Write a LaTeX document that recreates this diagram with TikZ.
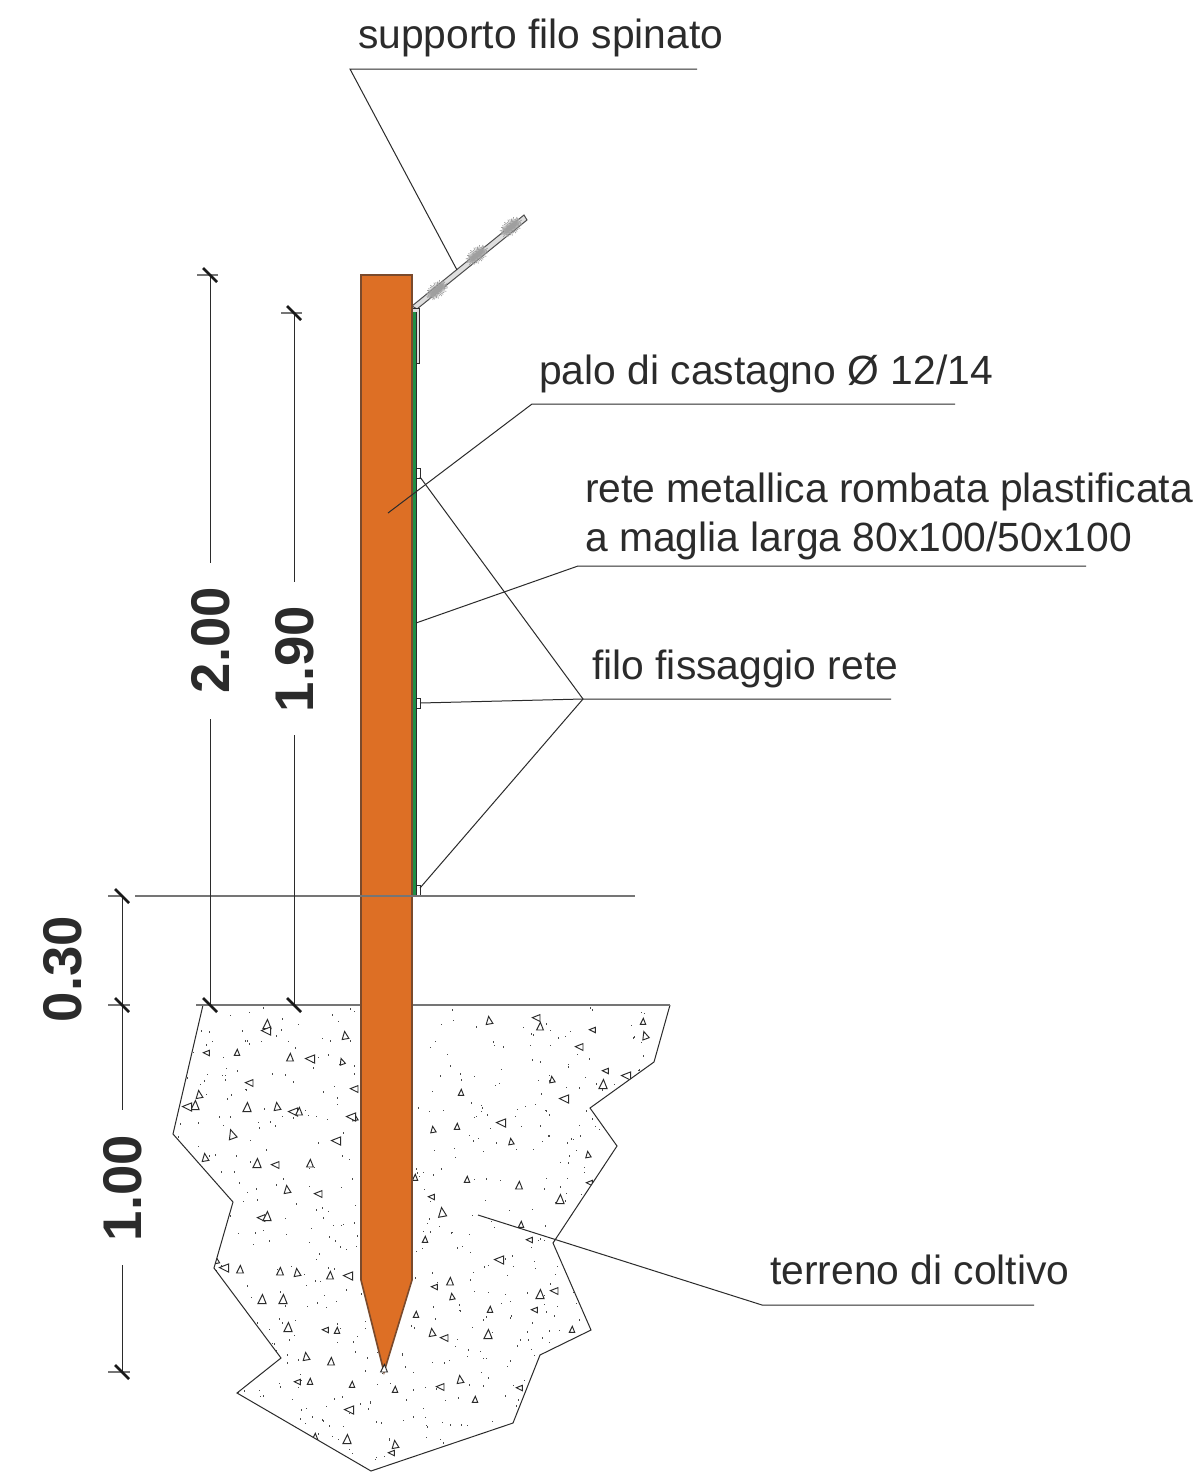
\documentclass[tikz,border=0pt]{standalone}
\usepackage{fontspec}
\setmainfont{Liberation Sans}
\definecolor{polecol}{HTML}{DD6F25}
\definecolor{poleline}{HTML}{7A4A2C}
\definecolor{netcol}{HTML}{1F8F45}
\definecolor{inkcol}{HTML}{2B2B2B}
\definecolor{platecol}{HTML}{DEDEDE}
\tikzset{
  leader/.style={draw=inkcol,line width=1pt},
  gline/.style={draw=inkcol!65,line width=1.3pt},
  tickmark/.style={draw=black!90,line width=2.8pt},
  label/.style={anchor=base west,inner sep=0pt,text=inkcol,font=\fontsize{40.8}{46}\selectfont},
  dimtext/.style={rotate=90,inner sep=0pt,text=inkcol,font=\fontsize{54.5}{60}\selectfont\bfseries},
  pebble/.style={draw=inkcol,line width=0.95pt,fill=white},
  barb/.style={draw=gray!75,line width=0.7pt}
}
\newcommand{\pebbleat}[3]{\pgfmathsetmacro{\sc}{0.8+0.2*mod(#1+#2,3)}\draw[pebble,shift={(#1,#2)},rotate=#3,scale=\sc] (-3.4,3) -- (3.4,3) -- (0.4,-4.6) -- cycle;}
\newcommand{\tickat}[2]{\draw[tickmark] (#1-7,#2-7) -- (#1+7,#2+7);}
\newcommand{\barbat}[2]{\begin{scope}[shift={(#1,#2)},rotate=39]
  \fill[gray!55] (-8,-2.5) rectangle (8,2.5);
  \foreach \a in {0,10,...,350}{\pgfmathsetmacro{\rr}{0.75+0.25*abs(sin(\a*7.3))}\draw[barb] (0,0) -- ({\rr*13*cos(\a)},{\rr*8*sin(\a)});}
\end{scope}}
\begin{document}
\begin{tikzpicture}[x=1pt,y=-1pt]
\useasboundingbox[fill=white] (0,0) rectangle (1202,1475);

% soil
\coordinate (s1) at (203,1005); \coordinate (s2) at (173,1134); \coordinate (s3) at (233,1202);
\coordinate (s4) at (214,1268); \coordinate (s5) at (281,1358); \coordinate (s6) at (237,1393);
\coordinate (s7) at (371,1471); \coordinate (s8) at (513,1423); \coordinate (s9) at (540,1355);
\coordinate (s10) at (591,1330); \coordinate (s11) at (553,1243); \coordinate (s12) at (617,1146);
\coordinate (s13) at (590,1108); \coordinate (s14) at (654,1062); \coordinate (s15) at (670,1005);
\begin{scope}
\clip (s1)--(s2)--(s3)--(s4)--(s5)--(s6)--(s7)--(s8)--(s9)--(s10)--(s11)--(s12)--(s13)--(s14)--(s15)--cycle;
\pgfmathsetseed{4711}
\foreach \i in {1,...,800}{
  \pgfmathsetmacro{\px}{173+rnd*497}
  \pgfmathsetmacro{\py}{1007+rnd*464}
  \fill[inkcol!85] (\px,\py) rectangle ++(1,1.5);
}
\foreach \x/\y/\r in {267/1025/0,267/1031/90,345/1036/10,207/1053/90,237/1053/0,290/1058/0,311/1059/90,342/1062/20,
250/1083/90,355/1089/90,199/1095/10,195/1106/0,188/1107/90,247/1108/0,277/1107/10,294/1112/90,299/1112/0,355/1118/10,
352/1117/90,232/1135/20,337/1141/90,205/1158/10,257/1164/0,276/1165/90,310/1164/0,287/1190/10,319/1194/90,262/1218/90,
267/1217/0,489/1021/10,537/1018/90,540/1027/0,593/1030/90,643/1022/0,645/1036/20,580/1047/90,552/1080/10,606/1071/90,
603/1085/0,627/1076/90,461/1093/0,565/1099/90,433/1130/10,457/1127/0,502/1123/90,511/1142/10,588/1155/10,467/1180/0,
519/1186/0,590/1183/90,415/1178/0,432/1197/90,442/1213/10,521/1225/0,530/1240/90,450/1282/0,435/1287/90,452/1297/10,
540/1295/0,555/1291/90,490/1310/0,535/1310/90,416/1315/0,432/1333/10,445/1338/90,488/1335/0,460/1380/10,441/1387/90,
395/1390/0,520/1388/90,572/1330/0,215/1260/10,225/1268/90,240/1270/0,280/1272/0,297/1273/10,330/1276/0,349/1276/90,
283/1300/0,288/1328/0,326/1330/90,337/1331/0,306/1357/10,331/1362/0,298/1382/90,310/1382/0,352/1385/0,347/1440/0,
395/1445/10,392/1453/90,315/1437/0,425/1240/0,500/1260/90,475/1400/0,350/1410/90,262/1300/0,560/1200/0}{
  \pebbleat{\x}{\y}{\r}
}
\end{scope}
\draw[leader] (s1)--(s2)--(s3)--(s4)--(s5)--(s6)--(s7)--(s8)--(s9)--(s10)--(s11)--(s12)--(s13)--(s14)--(s15);

% ground lines
\coordinate (gl1) at (196,1005); \coordinate (gl2) at (670,1005);
\draw[gline] (gl1) -- (gl2);
\coordinate (fl1) at (135,896); \coordinate (fl2) at (635,896);

% barbed-wire support
\coordinate (b1) at (412,306); \coordinate (b2) at (524,215); \coordinate (b3) at (527,220); \coordinate (b4) at (417,309);
\draw[fill=platecol,draw=inkcol!85,line width=1pt] (b1)--(b2)--(b3)--(b4)--cycle;
\barbat{437}{290}
\barbat{477}{255}
\barbat{511}{227}
\draw[fill=platecol,draw=inkcol,line width=1pt] (412,308) rectangle (419,363);
% net and fasteners
\fill[netcol] (412,312) rectangle (416.5,896);
\draw[draw=inkcol,line width=0.4pt] (416.5,312) -- (416.5,896);
\draw[fill=white,draw=inkcol,line width=0.9pt] (416,468) rectangle (420,478);
\draw[fill=white,draw=inkcol,line width=0.9pt] (416,698) rectangle (420,708);
\draw[fill=white,draw=inkcol,line width=0.9pt] (416,885) rectangle (420,895);

% pole
\coordinate (p1) at (361,275); \coordinate (p2) at (412,275); \coordinate (p3) at (412,1280);
\coordinate (p4) at (384,1372); \coordinate (p5) at (361,1280);
\draw[fill=polecol,draw=poleline,line width=1.6pt] (p1)--(p2)--(p3)--(p4)--(p5)--cycle;
\draw[gline] (fl1) -- (fl2);
\pebbleat{384}{1369}{0}

% labels
\node[label] (t1) at (358,48) {supporto filo spinato};
\node[label] (t2) at (539,384) {palo di castagno Ø 12/14};
\node[label] (t3) at (585,502) {rete metallica rombata plastificata};
\node[label] (t4) at (585,551) {a maglia larga 80x100/50x100};
\node[label] (t5) at (592,679) {filo fissaggio rete};
\node[label] (t6) at (770,1284) {terreno di coltivo};

% leaders
\coordinate (l1a) at (697,69); \coordinate (l1b) at (350,69); \coordinate (l1c) at (457,270);
\draw[leader] (l1a)--(l1b)--(l1c);
\coordinate (l2a) at (955,404); \coordinate (l2b) at (532,404); \coordinate (l2c) at (388,513);
\draw[leader] (l2a)--(l2b)--(l2c);
\coordinate (l3a) at (1086,566); \coordinate (l3b) at (578,566); \coordinate (l3c) at (416,623);
\draw[leader] (l3a)--(l3b)--(l3c);
\coordinate (l4a) at (891,699); \coordinate (l4b) at (583,699); \coordinate (l4c) at (420,477);
\coordinate (l4d) at (420,703); \coordinate (l4e) at (420,888);
\draw[leader] (l4a)--(l4b)--(l4c);
\draw[leader] (l4b)--(l4d);
\draw[leader] (l4b)--(l4e);
\coordinate (l5a) at (1034,1305); \coordinate (l5b) at (762,1305); \coordinate (l5c) at (478,1215);
\draw[leader] (l5a)--(l5b)--(l5c);

% dimensions
\node[dimtext] (d1) at (211,640) {2.00};
\node[dimtext] (d2) at (295,659) {1.90};
\node[dimtext] (d3) at (63,969) {0.30};
\node[dimtext] (d4) at (123,1188) {1.00};
\coordinate (a1) at (210,275); \coordinate (a2) at (210,563); \coordinate (a3) at (210,719); \coordinate (a4) at (210,1005);
\draw[leader] (a1)--(a2); \draw[leader] (a3)--(a4);
\coordinate (c1) at (294,313); \coordinate (c2) at (294,582); \coordinate (c3) at (294,735); \coordinate (c4) at (294,1005);
\draw[leader] (c1)--(c2); \draw[leader] (c3)--(c4);
\coordinate (e1) at (122,896); \coordinate (e2) at (122,1110); \coordinate (e3) at (122,1265); \coordinate (e4) at (122,1372);
\draw[leader] (e1)--(e2); \draw[leader] (e3)--(e4);
\draw[gline] (197,275) -- (218,275);
\draw[gline] (281,313) -- (302,313);
\draw[gline] (108,896) -- (122,896);
\draw[gline] (108,1005) -- (130,1005);
\draw[gline] (108,1372) -- (130,1372);
\tickat{210}{275} \tickat{294}{313} \tickat{122}{896} \tickat{122}{1005} \tickat{122}{1372} \tickat{210}{1005} \tickat{294}{1005}
\end{tikzpicture}
\end{document}
